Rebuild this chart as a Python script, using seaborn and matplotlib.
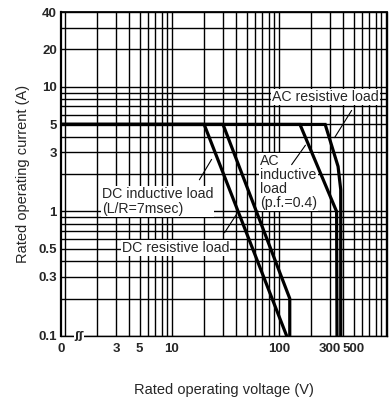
import matplotlib
matplotlib.use("Agg")
import matplotlib.pyplot as plt
import seaborn as sns
import pandas as pd
import numpy as np
from matplotlib.ticker import LogLocator, NullFormatter

# ---- data ----
dc_ind_v = [0.92, 20, 118]
dc_ind_i = [5, 5, 0.1]
dc_res_v = [0.92, 30, 126, 126]
dc_res_i = [5, 5, 0.2, 0.1]
ac_ind_v = [0.92, 157, 345, 348]
ac_ind_i = [5, 5, 1.0, 0.1]
ac_res_v = [0.92, 270, 356, 377, 377]
ac_res_i = [5, 5, 2.3, 1.5, 0.1]

x_ticks = [0.92, 3, 5, 10, 100, 300, 500]
x_labels = ["0", "3", "5", "10", "100", "300", "500"]
y_ticks = [0.1, 0.3, 0.5, 1, 3, 5, 10, 20, 40]
y_labels = ["0.1", "0.3", "0.5", "1", "3", "5", "10", "20", "40"]

frames = []
for name, v, i in [("DC inductive", dc_ind_v, dc_ind_i),
                   ("DC resistive", dc_res_v, dc_res_i),
                   ("AC inductive", ac_ind_v, ac_ind_i),
                   ("AC resistive", ac_res_v, ac_res_i)]:
    frames.append(pd.DataFrame({"V": v, "I": i, "load": name}))
df = pd.concat(frames, ignore_index=True)

sns.set_style("white")
plt.rcParams["font.family"] = ["Liberation Sans", "DejaVu Sans"]

fig = plt.figure(figsize=(3.9, 3.98), dpi=100)
ax = fig.add_axes([61 / 390, 1 - 336 / 398, (387 - 61) / 390, (336 - 12) / 398])
ax.set_xscale("log")
ax.set_yscale("log")
ax.set_xlim(0.92, 1020)
ax.set_ylim(0.1, 40)

pal = {k: "black" for k in df["load"].unique()}
sns.lineplot(data=df, x="V", y="I", hue="load", palette=pal, sort=False,
             estimator=None, legend=False, lw=2.3, ax=ax, zorder=5,
             solid_joinstyle="miter")

# grid
ax.xaxis.set_minor_locator(LogLocator(base=10, subs=np.arange(1, 10), numticks=20))
ax.yaxis.set_minor_locator(LogLocator(base=10, subs=np.arange(1, 10), numticks=20))
ax.xaxis.set_minor_formatter(NullFormatter())
ax.yaxis.set_minor_formatter(NullFormatter())
ax.xaxis.remove_overlapping_locs = False
ax.yaxis.remove_overlapping_locs = False
ax.set_xticks(x_ticks)
ax.set_xticklabels(x_labels)
ax.set_yticks(y_ticks)
ax.set_yticklabels(y_labels)
ax.grid(True, which="minor", color="black", lw=1.0)
ax.grid(False, which="major")
ax.tick_params(which="both", length=0)
ax.tick_params(axis="x", pad=5, labelsize=9.5)
ax.tick_params(axis="y", pad=3, labelsize=9.5)
for lab in ax.get_xticklabels() + ax.get_yticklabels():
    lab.set_fontweight("bold")

for s in ax.spines.values():
    s.set_color("black")
    s.set_linewidth(1.0)
ax.spines["left"].set_linewidth(1.6)
ax.spines["top"].set_linewidth(1.3)

ax.set_xlabel("Rated operating voltage (V)", fontsize=10.5, labelpad=20)
ax.set_ylabel("Rated operating current (A)", fontsize=10.5, labelpad=6)

# break marker on x axis
ax.text(0.055, 0.0, "ʃʃ", transform=ax.transAxes, ha="center", va="center",
        fontsize=8, fontweight="bold", family="DejaVu Sans",
        bbox=dict(fc="white", ec="none", pad=0.3), zorder=6, clip_on=False)

box = dict(fc="white", ec="none", pad=0.6)
fs = 10.2
ax.text(86, 8.3, "AC resistive load", fontsize=fs, ha="left", va="center", bbox=box, zorder=4)
ax.annotate("", xy=(320, 3.75), xytext=(492, 6.77),
            arrowprops=dict(arrowstyle="-", color="black", lw=0.8), zorder=4)
ax.text(66.4, 2.9, "AC\ninductive\nload\n(p.f.=0.4)", fontsize=fs, ha="left", va="top",
        linespacing=1.0, bbox=box, zorder=4)
ax.annotate("", xy=(182.7, 3.55), xytext=(126.7, 2.28),
            arrowprops=dict(arrowstyle="-", color="black", lw=0.8), zorder=4)
ax.text(2.22, 1.57, "DC inductive load\n(L/R=7msec)", fontsize=fs, ha="left", va="top",
        linespacing=1.1, bbox=box, zorder=4)
ax.annotate("", xy=(24.2, 2.74), xytext=(17.5, 1.72),
            arrowprops=dict(arrowstyle="-", color="black", lw=0.8), zorder=4)
ax.text(3.41, 0.509, "DC resistive load", fontsize=fs, ha="left", va="center", bbox=box, zorder=4)
ax.annotate("", xy=(41.4, 0.99), xytext=(30, 0.647),
            arrowprops=dict(arrowstyle="-", color="black", lw=0.8), zorder=4)

fig.savefig("out.png", dpi=100)
